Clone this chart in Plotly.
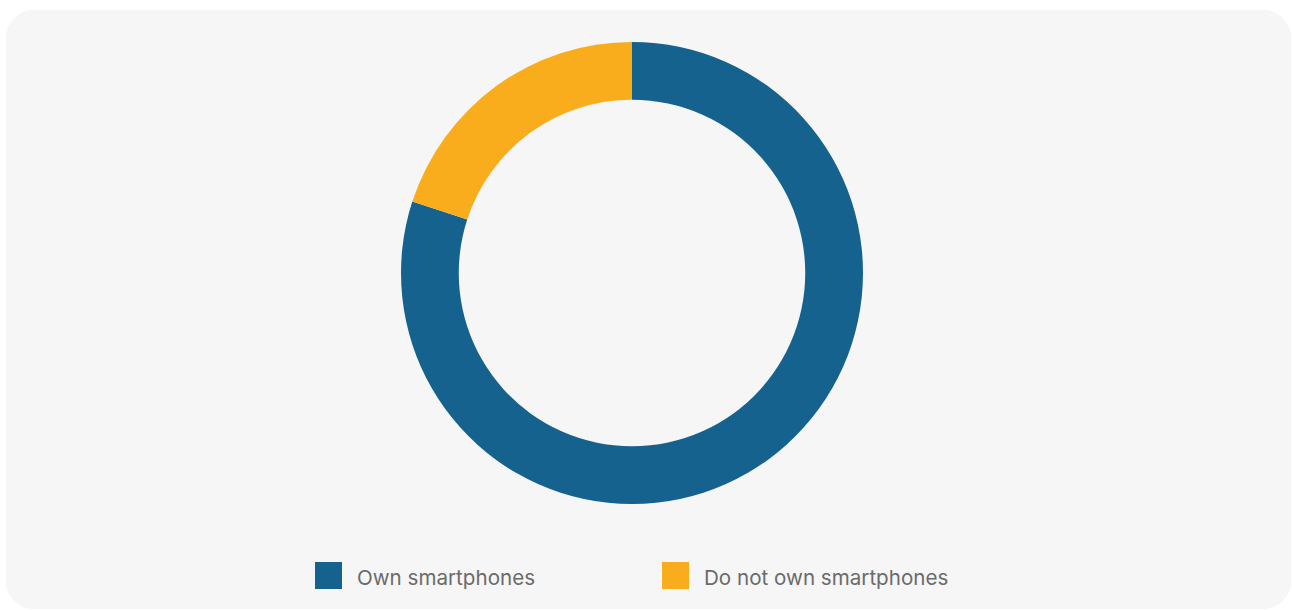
import plotly.graph_objects as go

# Smartphone ownership share (%)
categories = ["Own smartphones", "Do not own smartphones"]
shares = [80, 20]
colors = ["#15628F", "#FAAD1C"]

W, H = 1292, 610


def px(x):
    return x / W


def py(y):
    return 1 - y / H


fig = go.Figure(
    go.Pie(
        labels=categories,
        values=shares,
        hole=0.75,
        sort=False,
        direction="clockwise",
        rotation=0,
        marker=dict(colors=colors, line=dict(width=0)),
        textinfo="none",
        hoverinfo="label+percent",
        showlegend=False,
        domain=dict(x=[px(401), px(863)], y=[py(504), py(42)]),
    )
)

# Rounded card behind the chart
x0, y0, x1, y1, r = 6, 10, 1291, 609, 25
k = 0.45 * r
card = (
    f"M {px(x0 + r)},{py(y0)} L {px(x1 - r)},{py(y0)} "
    f"C {px(x1 - r + k)},{py(y0)} {px(x1)},{py(y0 + r - k)} {px(x1)},{py(y0 + r)} "
    f"L {px(x1)},{py(y1 - r)} "
    f"C {px(x1)},{py(y1 - r + k)} {px(x1 - r + k)},{py(y1)} {px(x1 - r)},{py(y1)} "
    f"L {px(x0 + r)},{py(y1)} "
    f"C {px(x0 + r - k)},{py(y1)} {px(x0)},{py(y1 - r + k)} {px(x0)},{py(y1 - r)} "
    f"L {px(x0)},{py(y0 + r)} "
    f"C {px(x0)},{py(y0 + r - k)} {px(x0 + r - k)},{py(y0)} {px(x0 + r)},{py(y0)} Z"
)
shapes = [dict(type="path", path=card, xref="paper", yref="paper",
               fillcolor="#F6F6F6", line=dict(width=0), layer="below")]

# Legend: swatch + label for each category
annotations = []
legend_x = [315, 662]
for name, color, lx in zip(categories, colors, legend_x):
    shapes.append(dict(type="rect", xref="paper", yref="paper",
                       x0=px(lx), x1=px(lx + 27), y0=py(589), y1=py(562),
                       fillcolor=color, line=dict(width=0)))
    annotations.append(dict(text=name, x=px(lx + 40), y=py(577), xref="paper", yref="paper",
                            xanchor="left", yanchor="middle", showarrow=False,
                            font=dict(size=20.6, color="#6B6B6B", family="Inter, Lato, sans-serif")))

fig.update_layout(
    width=W,
    height=H,
    margin=dict(l=0, r=0, t=0, b=0),
    paper_bgcolor="#FFFFFF",
    plot_bgcolor="#FFFFFF",
    shapes=shapes,
    annotations=annotations,
)

fig.write_html("out.html")
